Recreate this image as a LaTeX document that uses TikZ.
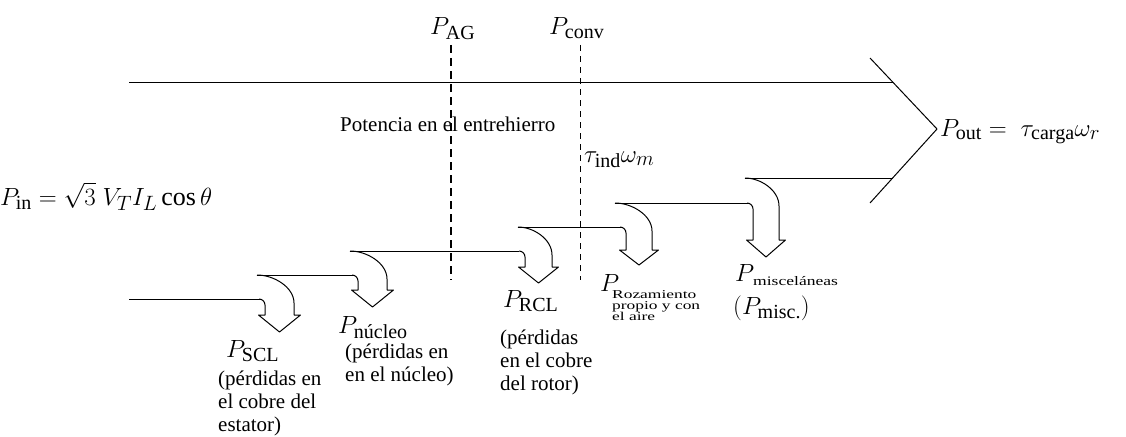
\documentclass[tikz,border=0pt]{standalone}
\usepackage{fontspec}
\setmainfont{Liberation Serif}
\usepackage{amsmath}
\DeclareMathSizes{26}{26}{20}{14}
\begin{document}
\begin{tikzpicture}[x=1pt,y=-1pt,line join=round]
\tikzset{
  band/.style={line width=1pt},
  dashAG/.style={line width=1.4pt,dash pattern=on 8pt off 5pt},
  dashconv/.style={line width=0.8pt,dash pattern=on 6pt off 5pt},
  mathlbl/.style={inner sep=0pt,anchor=base west,font=\fontsize{26}{30}\selectfont},
  txt/.style={inner sep=0pt,anchor=base west,font=\fontsize{21}{23}\selectfont},
  tiny/.style={inner sep=0pt,anchor=north west,font=\fontsize{12}{10.5}\selectfont},
}
\newcommand{\captxt}[1]{\begin{tabular}[t]{@{}l@{}}#1\end{tabular}}
\useasboundingbox (0,0) rectangle (1126,436);

% top boundary and chevron
\draw[band] (129,82) coordinate (topL) -- (893,82) coordinate (topR);
\draw[band] (870,58) coordinate (chA) -- (937,129) coordinate (tip) -- (870,203) coordinate (chB);

% lower boundary levels
\draw[band] (129,299) -- (260,299);
\draw[band] (257,275) -- (353,275);
\draw[band] (350,251) -- (519,251);
\draw[band] (518,227) -- (621,227);
\draw[band] (615,203) -- (748,203);
\draw[band] (745,178) -- (893,178);

% loss arrows: xl/xr shaft, yo old level, yh head top, yt tip, xo/yn new level start
\foreach \xl/\xr/\yo/\yh/\yt/\xo/\yn in {
  265/294/299/315/332/257/275,
  358/387/275/290/307/350/251,
  525/552/251/267/283/518/227,
  626/652/227/250/265/615/203,
  753/779/203/240/257/745/178}{
  \draw[band] (\xl-6,\yo) to[out=0,in=90] (\xl,\yo+6) -- (\xl,\yh) -- (\xl-6.5,\yh)
    -- ({(\xl+\xr)/2},\yt) -- (\xr+6.5,\yh) -- (\xr,\yh) -- (\xr,\yn+28)
    .. controls (\xr,\yn+12) and ({\xo+0.45*(\xr-\xo)},\yn) .. (\xo,\yn);
}

% dashed boundaries
\draw[dashAG] (451,45) -- (451,280);
\draw[dashconv] (580,45) -- (580,280);

% labels
\node[mathlbl] (pag) at (430,35) {$P_{\text{AG}}$};
\node[mathlbl] (pconv) at (549,35) {$P_{\text{conv}}$};
\node[txt] (pot) at (340,131) {Potencia en el entrehierro};
\node[mathlbl] (pin) at (0,205) {$P_{\text{in}} = \sqrt{3}\;V_T I_L \cos\theta$};
\node[mathlbl] (tind) at (584,162) {$\tau_{\text{ind}}\omega_m$};
\node[mathlbl] (pout) at (940,136) {$P_{\text{out}} = \;\tau_{\text{carga}}\omega_r$};

\node[mathlbl] (pscl) at (226,357) {$P_{\text{SCL}}$};
\node[txt] (cscl) at (218,385) {\captxt{(pérdidas en\\el cobre del\\estator)}};

\node[mathlbl] (pnuc) at (338,333) {$P_{\text{núcleo}}$};
\node[txt] (cnuc) at (345,358) {\captxt{(pérdidas en\\en el núcleo)}};

\node[mathlbl] (prcl) at (503,307) {$P_{\text{RCL}}$};
\node[txt] (crcl) at (500,344) {\captxt{(pérdidas\\en el cobre\\del rotor)}};

\node[mathlbl] (proz) at (600,291) {$P$};
\node[tiny] (croz) at (612,290) {\scalebox{1.45}[1]{\begin{tabular}{@{}l@{}}Rozamiento\\propio y con\\el aire\end{tabular}}};

\node[mathlbl] (pmis) at (735,281) {$P$};
\node[inner sep=0pt,anchor=base west,font=\fontsize{13}{13}\selectfont] (cmis) at (753,285) {\scalebox{1.35}[1]{misceláneas}};
\node[mathlbl] (pmisc) at (733,314) {$(P_{\text{misc.}})$};
\end{tikzpicture}
\end{document}
